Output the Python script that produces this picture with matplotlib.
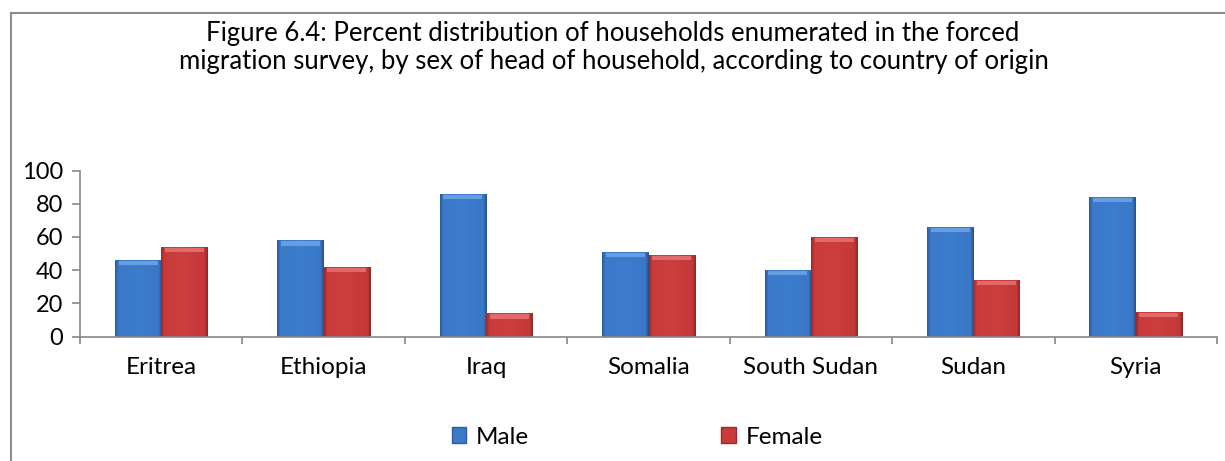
import matplotlib
matplotlib.use("Agg")
import matplotlib.pyplot as plt
import numpy as np
from matplotlib.patches import Rectangle
from matplotlib.lines import Line2D
from matplotlib.colors import LinearSegmentedColormap

countries = ["Eritrea", "Ethiopia", "Iraq", "Somalia", "South Sudan", "Sudan", "Syria"]
male = [46, 58, 86, 51, 40, 66, 84]
female = [54, 42, 14, 49, 60, 34, 15]
yticks = [0, 20, 40, 60, 80, 100]
title_lines = ["Figure 6.4: Percent distribution of households enumerated in the forced",
               "migration survey, by sex of head of household, according to country of origin"]

plt.rcParams['font.family'] = ['Lato', 'DejaVu Sans']

W, H = 1225, 461
fig = plt.figure(figsize=(W / 100, H / 100), dpi=100)

ax = fig.add_axes([80 / W, (H - 336.5) / H, (1217 - 80) / W, (336.5 - 170.5) / H])

x = np.arange(len(countries))
bw = 0.285
blue = "#3b79c9"
blue_edge = "#2c5d9e"
red = "#c93a3a"
red_edge = "#9a2a2a"
cm_blue = LinearSegmentedColormap.from_list(
    "b", [(0, "#2b5c9e"), (0.07, "#3b79c9"), (0.5, "#3d7dce"), (0.93, "#3a77c6"), (1, "#284f88")])
cm_red = LinearSegmentedColormap.from_list(
    "r", [(0, "#992a2a"), (0.07, "#c93a3a"), (0.5, "#cd3e3e"), (0.93, "#c43838"), (1, "#8c2626")])

bars_m = ax.bar(x - bw / 2, male, width=bw, color=blue, edgecolor='none', zorder=3)
bars_f = ax.bar(x + bw / 2, female, width=bw, color=red, edgecolor='none', zorder=3)

grad = np.linspace(0, 1, 128).reshape(1, -1)
for bars, cmap, light in ((bars_m, cm_blue, "#6fa4e8"), (bars_f, cm_red, "#e77272")):
    for b in bars:
        x0, w, h = b.get_x(), b.get_width(), b.get_height()
        im = ax.imshow(grad, cmap=cmap, aspect='auto', extent=(x0, x0 + w, 0, h),
                       zorder=3.5, interpolation='bilinear')
        im.set_clip_path(b)
        # top bevel highlight
        ax.bar(x0 + w / 2, 2.6, bottom=h - 3.2, width=w * 0.84, color=light, alpha=0.85,
               edgecolor='none', zorder=4)

ax.set_xlim(-0.5, len(countries) - 0.5)
ax.set_ylim(0, 100)
ax.set_yticks(yticks)
ax.set_yticklabels([str(v) for v in yticks], fontsize=17)
ax.set_xticks(x)
ax.set_xticklabels(countries, fontsize=17.5)
ax.tick_params(axis='x', length=0, pad=15)
ax.set_xticks(np.arange(-0.5, len(countries), 1.0), minor=True)
ax.tick_params(axis='x', which='minor', length=5, direction='out', color='#888888', width=1.2)
ax.tick_params(axis='y', length=6, direction='out', color='#888888', width=1.2, pad=6)
for s in ['top', 'right']:
    ax.spines[s].set_visible(False)
for s in ['left', 'bottom']:
    ax.spines[s].set_color('#888888')
    ax.spines[s].set_linewidth(1.2)
    ax.spines[s].set_zorder(5)

# outer border
fig.add_artist(Line2D([10.5 / W, 10.5 / W], [0, (H - 13) / H], color='#8c8c8c', lw=1.5, transform=fig.transFigure))
fig.add_artist(Line2D([10.5 / W, 1.0], [(H - 13) / H, (H - 13) / H], color='#8c8c8c', lw=1.5, transform=fig.transFigure))

fig.text(613 / W, (H - 33) / H, title_lines[0], ha='center', va='center', fontsize=18.5)
fig.text(614 / W, (H - 61) / H, title_lines[1], ha='center', va='center', fontsize=18.5)

handles = [Rectangle((0, 0), 1, 1, facecolor=blue, edgecolor=blue_edge),
           Rectangle((0, 0), 1, 1, facecolor=red, edgecolor=red_edge)]
fig.legend(handles, ["Male", "Female"], loc='center', bbox_to_anchor=(637 / W, 24 / H),
           ncol=2, frameon=False, fontsize=17.5, handlelength=0.6, handleheight=0.6,
           handletextpad=0.4, columnspacing=7.9)

fig.savefig("out.png", dpi=100)
